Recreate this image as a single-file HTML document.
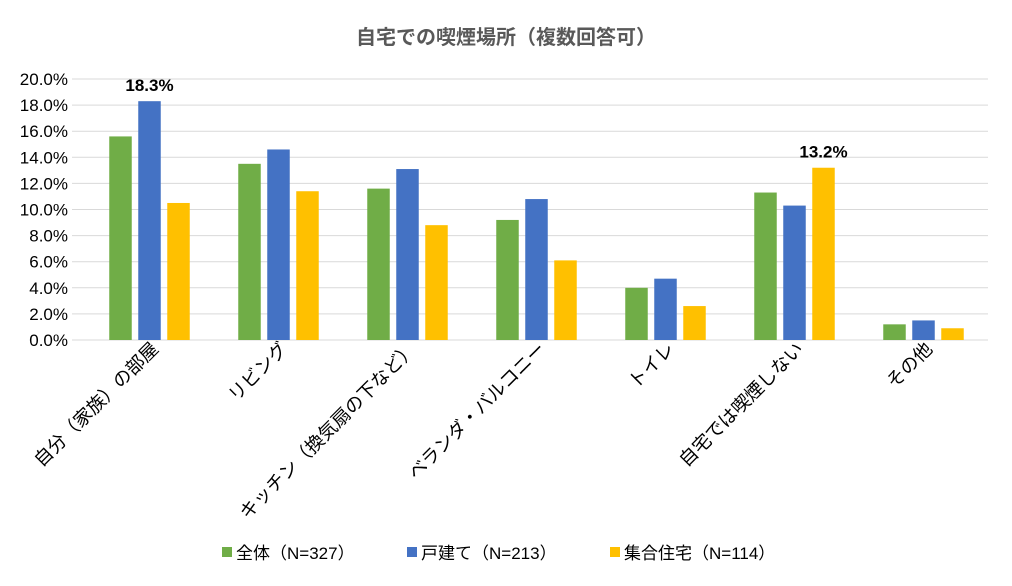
<!DOCTYPE html>
<html><head><meta charset="utf-8"><style>
body{margin:0;background:#fff;}
svg{display:block;font-family:"Liberation Sans","Noto Sans CJK JP",sans-serif;}
</style></head><body>
<svg id="chart" width="1012" height="586">
<text x="506" y="44" text-anchor="middle" font-size="20" font-weight="bold" fill="#595959">自宅での喫煙場所（複数回答可）</text>
<g id="grid"></g><g id="bars"></g><g id="xl"></g>
<g>
<rect x="222" y="547" width="10" height="10" fill="#70ad47"/>
<text x="236" y="559" font-size="17" fill="#000">全体（N=327）</text>
<rect x="407" y="547" width="10" height="10" fill="#4472c4"/>
<text x="421" y="559" font-size="17" fill="#000">戸建て（N=213）</text>
<rect x="610" y="547" width="10" height="10" fill="#ffc000"/>
<text x="624" y="559" font-size="17" fill="#000">集合住宅（N=114）</text>
</g>
</svg>
<script>
const categories=["自分（家族）の部屋","リビング","キッチン（換気扇の下など）","ベランダ・バルコニー","トイレ","自宅では喫煙しない","その他"];
const seriesAll=[15.6,13.5,11.6,9.2,4.0,11.3,1.2];
const seriesHouse=[18.3,14.6,13.1,10.8,4.7,10.3,1.5];
const seriesApt=[10.5,11.4,8.8,6.1,2.6,13.2,0.9];
const yTicks=[0,2,4,6,8,10,12,14,16,18,20];
const NS="http://www.w3.org/2000/svg";
const x0=85,x1=988,yb=340,yt=79,ymax=20;
const y=v=>yb-(v/ymax)*(yb-yt);
const bw=(x1-x0)/categories.length;
const cx=i=>x0+bw*(i+0.5);
function mk(t,a,p){const e=document.createElementNS(NS,t);for(const k in a)e.setAttribute(k,a[k]);p.appendChild(e);return e;}
const grid=document.getElementById('grid');
yTicks.forEach(v=>{
 const l=mk('line',{x1:72,x2:x1,y1:y(v),y2:y(v),stroke:'#d9d9d9','stroke-width':1},grid);
 
 
 const t=mk('text',{x:68,y:y(v)+6,'text-anchor':'end','font-size':17,fill:'#000'},grid);
 t.textContent=v.toFixed(1)+'%';
 
 
});
const bars=document.getElementById('bars');
const series=[[seriesAll,'#70ad47','all'],[seriesHouse,'#4472c4','house'],[seriesApt,'#ffc000','apartment']];
const w=22.5,gap=6.5;
categories.forEach((c,i)=>{
 series.forEach(([d,col,n],j)=>{
  const bx=cx(i)+(j-1)*(w+gap)-w/2;
  const r=mk('rect',{x:bx,y:y(d[i]),width:w,height:yb-y(d[i]),fill:col},bars);
  
  
 });
 const xl=mk('text',{transform:`translate(${cx(i)+10},${350}) rotate(-45)`,'text-anchor':'end','font-size':18.5,fill:'#000'},document.getElementById('xl'));
 xl.textContent=c;
 
 
});
[[0,1],[5,2]].forEach(([i,j])=>{
 const d=series[j][0];
 const t=mk('text',{x:cx(i)+(j-1)*(w+gap),y:y(d[i])-10,'text-anchor':'middle','font-size':17,'font-weight':'bold',fill:'#000'},bars);
 t.textContent=d[i].toFixed(1)+'%';
 
 
});
</script>
</body></html>
